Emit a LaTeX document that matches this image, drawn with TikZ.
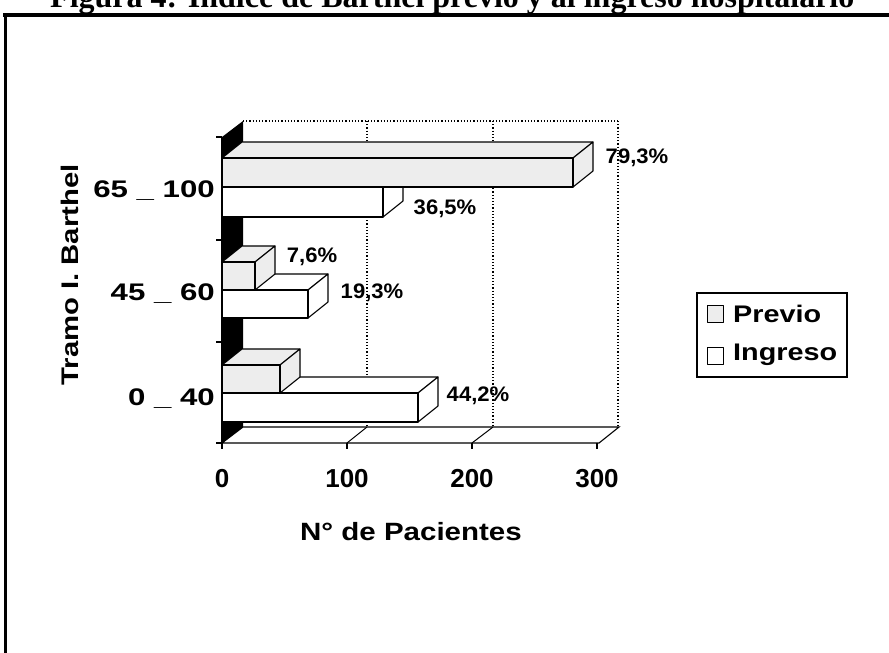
\documentclass[tikz,border=0pt]{standalone}
\usepackage{fontspec}
\setmainfont{Liberation Serif}
\setsansfont{Liberation Sans}
\newcommand\stretchtxt[2]{\scalebox{#1}[1]{#2}}
\newcommand\barbox[4]{%
  \filldraw[#4] (222,#2) -- (#1,#2) -- (#1+20,#2-16) -- (242,#2-16) -- cycle;
  \filldraw[#4] (#1,#2) -- (#1+20,#2-16) -- (#1+20,#3-16) -- (#1,#3) -- cycle;
  \filldraw[#4] (222,#2) rectangle (#1,#3);
}
\tikzset{
  prevbar/.style={fill=black!7, draw=black, line width=1.1pt, line join=round},
  ingbar/.style={fill=white, draw=black, line width=1.1pt, line join=round},
  gridln/.style={dotted, line width=1.2pt},
  pct/.style={font=\fontsize{21}{24}\selectfont\sffamily\bfseries, inner sep=0pt},
  cat/.style={font=\fontsize{24}{28}\selectfont\sffamily\bfseries, inner sep=0pt, anchor=base east},
  ticklab/.style={font=\fontsize{26}{30}\selectfont\sffamily\bfseries, inner sep=0pt, anchor=base},
  legtxt/.style={font=\fontsize{24}{28}\selectfont\sffamily\bfseries, inner sep=0pt, anchor=base west},
}
\begin{document}
\begin{tikzpicture}[x=1pt, y=-1pt]
\useasboundingbox (0,0) rectangle (889,653);
\fill[white] (0,0) rectangle (889,653);
% title (cut at top, as in the reference) and frame
\node[anchor=base west, inner sep=0pt, font=\fontsize{32}{36}\selectfont\bfseries] (title) at (50,8)
  {Figura 4: Índice de Barthel previo y al ingreso hospitalario};
\draw[line width=4pt] (3,15) -- (900,15);
\draw[line width=3pt] (5,13) -- (5,670);
% back wall grid
\draw[gridln] (243,121) -- (618,121);
\draw[gridln] (367,121) -- (367,427);
\draw[gridln] (493,121) -- (493,427);
\draw[gridln] (618,121) -- (618,427);
% floor
\filldraw[fill=white, draw=black, line width=1.1pt] (222,443) -- (599,443) -- (619,427) -- (243,427) -- cycle;
\draw[line width=1pt] (347,443) -- (367,427);
\draw[line width=1pt] (472,443) -- (493,427);
% left wall
\fill[black] (222,137) -- (243,121) -- (243,427) -- (222,443) -- cycle;
\draw[line width=1.2pt] (222,137) -- (222,449);
\foreach \yy in {137,240,342,443} \draw[line width=1.2pt] (216,\yy) -- (222,\yy);
\foreach \xx in {222,347,472,597} \draw[line width=1.2pt] (\xx,443) -- (\xx,449);
% bars (bottom to top)
\barbox{418}{393}{422}{ingbar}
\barbox{280}{365}{393}{prevbar}
\barbox{308}{290}{318}{ingbar}
\barbox{255}{262}{290}{prevbar}
\barbox{383}{187}{217}{ingbar}
\barbox{573}{158}{187}{prevbar}
% value labels
\node[pct] (v1) at (637,158) {\stretchtxt{1.05}{79,3\%}};
\node[pct] (v2) at (445,209) {\stretchtxt{1.05}{36,5\%}};
\node[pct] (v3) at (312,257) {\stretchtxt{1.05}{7,6\%}};
\node[pct] (v4) at (372,293) {\stretchtxt{1.05}{19,3\%}};
\node[pct] (v5) at (478,396) {\stretchtxt{1.05}{44,2\%}};
% category labels
\node[cat] (c1) at (215,197) {\stretchtxt{1.3}{65 \_ 100}};
\node[cat] (c2) at (215,300) {\stretchtxt{1.3}{45 \_ 60}};
\node[cat] (c3) at (215,405) {\stretchtxt{1.3}{0 \_ 40}};
% axis titles
\node[rotate=90, inner sep=0pt, font=\fontsize{24}{28}\selectfont\sffamily\bfseries] (ytitle) at (70,275)
  {\stretchtxt{1.22}{Tramo I. Barthel}};
\node[ticklab] (t0) at (222,487) {0};
\node[ticklab] (t1) at (347,487) {100};
\node[ticklab] (t2) at (472,487) {200};
\node[ticklab] (t3) at (597,487) {300};
\node[anchor=base, inner sep=0pt, font=\fontsize{25}{28}\selectfont\sffamily\bfseries] (xtitle) at (411,540)
  {\stretchtxt{1.18}{N° de Pacientes}};
% legend
\draw[line width=1.2pt] (697,293) rectangle (847,377);
\filldraw[prevbar, line width=1pt] (707,305) rectangle (723,322);
\filldraw[ingbar, line width=1pt] (707,347) rectangle (723,364);
\node[legtxt] (lp) at (733,322) {\stretchtxt{1.2}{Previo}};
\node[legtxt] (li) at (733,360) {\stretchtxt{1.2}{Ingreso}};
\end{tikzpicture}
\end{document}
